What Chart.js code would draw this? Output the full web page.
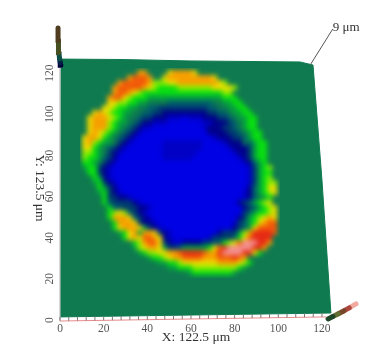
<!DOCTYPE html>
<html><head><meta charset="utf-8">
<style>html,body{margin:0;padding:0;background:#fff}canvas{display:block}</style>
<script src="https://cdn.jsdelivr.net/npm/chart.js@4/dist/chart.umd.min.js"></script>
</head><body><canvas id="c" width="388" height="362"></canvas>
<script>
// height levels (low to high); a letter may carry a repeat count
const levelCodes = 'abcde.hijklmno';
const levelColors = ['#0000e6','#0000c6','#00008c','#003a70','#00606c','#0f7a50','#05a040','#08e010','#90ee00','#f0dc00','#f8a000','#f45a08','#e82a14','#f59090'];
const heightRows = [
'.41',
'.12ll.4kl4k.17',
'.10lm3l..kl9k.13',
'.8lm5ljjjkkl8kj.11',
'.7lm5lkji4j7k4j.10',
'.7lmmlkji16jj.10',
'.6lmmkjiiih15iii.9',
'.6kkjjiihh.4e9..hhii.8',
'.5kkjiihh..eed10ee..hhii.7',
'.3klkjiihh..eeddc9ddee.hhii.6',
'..kl3kjih..eddcccbbbabbbcccdde.hhii.5',
'..kl3jihh.edccbbba7bbcccde.hii.5',
'..kl3jih.edcbba10bcccdde.hii.5',
'..klkjih.edcba13ccccdde.hii.4',
'.kllkih.edcba15bcccddehii.4',
'.kljihh.dcba6b8a4bccc.ehii.4',
'.kkih.edcba7b8a5bcccdhii.3',
'.jjih.dcba8b7a7bccdhii.3',
'.jiihedca9b6a9bcdhii.3',
'.iih.dcba25bcehi.3',
'.hiidcba27bdhij..',
'..iidcba27bdhii..',
'...ihcba27bdhij..',
'...hidcba26bdhijj.',
'....ihdca26cehikk.',
'....hidcba24bcehijk.',
'.5iddccba22bce.hi..',
'.5ieddddcba19cdehijk.',
'.6ieedddccba18cdehijk.',
'.6ijkjedcba19dehiijk.',
'.6il3kedcba17cdhijklk.',
'.7il3kdccba15bdehiklmm.',
'.7ikl3khdcba13acdehkm4.',
'.8hiklhllkdcba9cdddhjln4m.',
'.9iklkmmlkcba7bd4eikmn4..',
'.11ijlmmkdcbbc4ddeeijkmo3nnl..',
'.11hjkllkhddeh5ikmno5nnl...',
'.12hijjkkllmn4mllno4nnki.4',
'.14hiijkllm4lllm3nml.7',
'.16hhiijk7l4kji.6',
'.18hhiiij9ih.7',
'.22hi8h.9',
'.41'
];
const gridStartX = 9.16, gridStepX = 2.29, gridStartY = 122.45, gridStepY = 2.43;
const plateX = [0.2,27.5,59.6,110,115.9,120,124.1,0];
const plateY = [126.8,126.6,125.9,125.4,123.9,68,3.4,1.5];
const xTickValues = [0,20,40,60,80,100,120];
const minorTickX = [0,4,8,12,16,20,24,28,32,36,40,44,48,52,56,60,64,68,72,76,80,84,88,92,96,100,104,108,112,116,120];
const zBarLeftX = [0.4,0.1,-0.2,-0.5,-0.7,-0.9];
const zBarLeftY = [123.8,125,127,130,136,141.9];
const zBarLeftColors = ['#00003c','#001e46','#0a5046','#465020','#503c1e','#46281e'];
const zBarRightX = [135.6,132.5,130,127.5,125,122.8];
const zBarRightY = [7.8,5.9,4.4,3,1.7,0.5];
const zBarRightColors = ['#f0aaa0','#aa463c','#784628','#646e32','#1e4628','#0a0f0a'];
const zLeaderX = [125,114.6];
const zLeaderY = [141.5,123.9];
const xTitle = 'X: 122.5 μm', yTitle = 'Y: 123.5 μm', zTitle = '9 μm';

const heatPoints = [], heatColors = [];
heightRows.forEach((row, j) => {
  let i = 0;
  for (const m of row.matchAll(/([a-z.])(\d+)?/g)) {
    const n = m[2] ? +m[2] : 1;
    for (let k = 0; k < n; k++, i++) {
      heatPoints.push({x: gridStartX + i * gridStepX, y: gridStartY - j * gridStepY});
      heatColors.push(levelColors[levelCodes.indexOf(m[1])]);
    }
  }
});
const pts = (xs, ys) => xs.map((x, i) => ({x, y: ys[i]}));
const bottomLine = x => -0.5 + x * 0.0164;
const minorPts = [];
minorTickX.forEach(x => { minorPts.push({x, y: bottomLine(x)}, {x, y: bottomLine(x) + 2}, {x: NaN, y: NaN}); });

const lineBase = {showLine: true, pointRadius: 0, tension: 0, clip: false, fill: false};
const HEAT = 1;
const blurPlugin = {
  id: 'surface',
  afterDatasetDraw(chart, args) {
    if (args.index !== HEAT) return;
    const ctx = chart.ctx, sx = chart.scales.x, sy = chart.scales.y;
    const x0 = sx.getPixelForValue(gridStartX), y0 = sy.getPixelForValue(gridStartY);
    const x1 = sx.getPixelForValue(gridStartX + 40 * gridStepX), y1 = sy.getPixelForValue(gridStartY - 42 * gridStepY);
    ctx.save();
    ctx.setTransform(1, 0, 0, 1, 0, 0);
    ctx.beginPath(); ctx.rect(x0, y0, x1 - x0, y1 - y0); ctx.clip();
    ctx.filter = 'blur(2.4px)';
    ctx.drawImage(ctx.canvas, 0, 0);
    ctx.restore();
  },
  afterDraw(chart) {
    const ctx = chart.ctx, sx = chart.scales.x, sy = chart.scales.y;
    ctx.save();
    ctx.fillStyle = '#333';
    ctx.font = '13.5px "Liberation Serif"';
    ctx.textAlign = 'center'; ctx.textBaseline = 'middle';
    ctx.translate(40, 188); ctx.rotate(Math.PI / 2);
    ctx.fillText(yTitle, 0, 0);
    ctx.restore();
    ctx.save();
    ctx.fillStyle = '#333';
    ctx.font = '13px "Liberation Serif"';
    ctx.textAlign = 'left'; ctx.textBaseline = 'middle';
    ctx.fillText(zTitle, sx.getPixelForValue(125), sy.getPixelForValue(142.3));
    ctx.restore();
  }
};

new Chart(document.getElementById('c'), {
  type: 'scatter',
  plugins: [blurPlugin],
  data: {datasets: [
    {...lineBase, data: pts(plateX, plateY), fill: 'shape', backgroundColor: levelColors[5], borderColor: levelColors[5], borderWidth: 1, order: 9},
    {data: heatPoints, pointStyle: 'rect', pointRadius: 4, pointBorderWidth: 0, pointBackgroundColor: heatColors, order: 8},
    {...lineBase, data: pts([0,0],[0,127]), borderColor: '#bdbdbd', borderWidth: 1.2, order: 5},
    {...lineBase, data: pts([0,122],[bottomLine(0),bottomLine(122)]), borderColor: '#e88a8a', borderWidth: 1, order: 4},
    {...lineBase, data: minorPts, borderColor: '#777', borderWidth: 1, spanGaps: false, order: 3},
    {...lineBase, data: pts(zLeaderX, zLeaderY), borderColor: '#555', borderWidth: 1, order: 2},
    {...lineBase, data: pts(zBarLeftX, zBarLeftY), borderWidth: 5, borderCapStyle: 'round', borderColor: zBarLeftColors[0],
      segment: {borderColor: c => zBarLeftColors[c.p0DataIndex]}, order: 1},
    {...lineBase, data: pts(zBarRightX, zBarRightY), borderWidth: 5, borderCapStyle: 'round', borderColor: zBarRightColors[0],
      segment: {borderColor: c => zBarRightColors[c.p0DataIndex]}, order: 1}
  ]},
  options: {
    responsive: false, animation: false,
    layout: {padding: {left: 0, right: 56, top: 56, bottom: 0}},
    plugins: {legend: {display: false}, tooltip: {enabled: false}, title: {display: false}},
    scales: {
      x: {type: 'linear', min: 0, max: 124.6,
        afterFit: s => { s.height = 42; },
        afterBuildTicks: s => { s.ticks = xTickValues.map(value => ({value})); },
        grid: {display: false, drawTicks: false}, border: {display: false},
        ticks: {font: {family: 'Liberation Serif', size: 11.5}, color: '#555', padding: 2, maxRotation: 0, minRotation: 0, autoSkip: false, includeBounds: false},
        title: {display: true, text: xTitle, color: '#333', font: {family: 'Liberation Serif', size: 13.5}, padding: {top: 0, bottom: 16}}
      },
      y: {type: 'linear', min: 0, max: 128.3,
        afterFit: s => { s.width = 60; },
        grid: {display: false, drawTicks: false}, border: {display: false},
        ticks: {stepSize: 20, includeBounds: false, font: {family: 'Liberation Serif', size: 11.5}, color: '#555', padding: 1, minRotation: 90, maxRotation: 90, crossAlign: 'center', autoSkip: false}
      }
    }
  }
});
</script></body></html>
